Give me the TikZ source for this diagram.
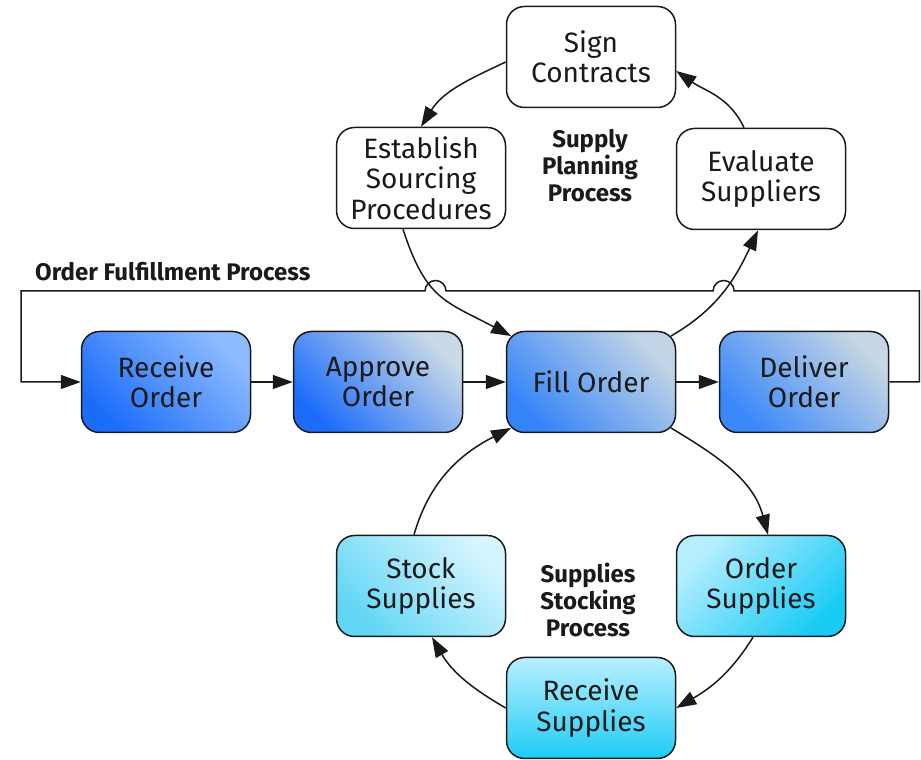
\documentclass[tikz,border=0pt]{standalone}
\usepackage{fontspec}
\setmainfont{Fira Sans}
\usetikzlibrary{arrows.meta,calc,intersections}
\definecolor{linec}{HTML}{1A1A1A}
\definecolor{textc}{HTML}{1A1A1A}
\definecolor{roL}{HTML}{8DBBFF}\definecolor{roD}{HTML}{1C6DFB}
\definecolor{aoL}{HTML}{C9D9E8}\definecolor{aoD}{HTML}{1C6DFB}
\definecolor{foL}{HTML}{C2D5E6}\definecolor{foD}{HTML}{3584F7}
\definecolor{dlL}{HTML}{C6D6E4}\definecolor{dlD}{HTML}{3A88FA}
\definecolor{ssL}{HTML}{D5F5FF}\definecolor{ssD}{HTML}{62D6F5}
\definecolor{osL}{HTML}{B6EEFF}\definecolor{osD}{HTML}{18CBF4}
\definecolor{rsL}{HTML}{B9EFFF}\definecolor{rsD}{HTML}{1DCCF5}
\begin{document}
\begin{tikzpicture}[x=1pt,y=1pt,
  box/.style={draw=linec, line width=1.5pt, rounded corners=18pt,
    minimum width=169pt, minimum height=101pt, inner sep=0pt, align=center,
    font=\fontsize{28}{30.5}\selectfont, text=textc},
  plainbox/.style={box, fill=white},
  link/.style={draw=linec, line width=1.5pt, -{Triangle[length=20pt,width=14pt]}},
  loopline/.style={draw=linec, line width=1.5pt},
  lbl/.style={font=\fontsize{24}{27}\selectfont\bfseries, align=center, text=textc, inner sep=0pt}
]
\useasboundingbox (0,0) rectangle (921,760);

% order fulfillment row
\node[box, top color=roL, bottom color=roD, shading angle=-45] (ro) at (166,378) {Receive\\Order};
\node[box, top color=aoL, bottom color=aoD, shading angle=-45] (ao) at (378,378) {Approve\\Order};
\node[box, top color=foL, bottom color=foD, shading angle=-45] (fo) at (591,378) {Fill Order};
\node[box, top color=dlL, bottom color=dlD, shading angle=-45] (dlv) at (804,378) {Deliver\\Order};

% supply planning
\node[plainbox] (sc) at (591,703) {Sign\\Contracts};
\node[plainbox] (es) at (421,582) {Establish\\Sourcing\\Procedures};
\node[plainbox] (ev) at (761,581) {Evaluate\\Suppliers};

% supplies stocking
\node[box, top color=ssL, bottom color=ssD, shading angle=-45] (ss) at (421,174) {Stock\\Supplies};
\node[box, top color=osL, bottom color=osD, shading angle=45] (os) at (761,174) {Order\\Supplies};
\node[box, top color=rsL, bottom color=rsD] (rs) at (591,52) {Receive\\Supplies};

% labels
\node[lbl, anchor=west] (lof) at (35,488) {Order Fulfillment Process};
\node[lbl] (lsp) at (590,594) {Supply\\Planning\\Process};
\node[lbl] (lss) at (588,160) {Supplies\\Stocking\\Process};

% corner points of Fill Order
\coordinate (foNW) at ($(fo.north west)+(5.3,-5.3)$);
\coordinate (foNE) at ($(fo.north east)+(-5.3,-5.3)$);
\coordinate (foSW) at ($(fo.south west)+(5.3,5.3)$);
\coordinate (foSE) at ($(fo.south east)+(-5.3,5.3)$);

% straight row links
\draw[link] (ro.east) -- (ao.west);
\draw[link] (ao.east) -- (fo.west);
\draw[link] (fo.east) -- (dlv.west);

% supply planning cycle
\draw[link] ($(sc.west)+(0,-5)$) to[out=205,in=58] (es.north);
\draw[link, name path=c1] ($(es.south)+(-18,0)$) to[out=288,in=152,looseness=1.25] (foNW);
\draw[link, name path=c2] (foNE) to[out=30,in=245] ($(ev.south)+(-3,0)$);
\draw[link] ($(ev.north)+(-17,0)$) to[out=115,in=325] ($(sc.east)+(0,-14)$);

% supplies stocking cycle
\draw[link] (foSE) to[out=-31,in=105] ($(os.north)+(7,0)$);
\draw[link] ($(os.south)+(-8,0)$) to[out=238,in=30] (rs.east);
\draw[link] (rs.west) to[out=150,in=300] ($(ss.south)+(11,0)$);
\draw[link] ($(ss.north)+(-7,0)$) to[out=74,in=207] (foSW);

% loop with line jumps
\path[name path=hl] (0,469) -- (921,469);
\path[name intersections={of=c1 and hl, by=xa}];
\path[name intersections={of=c2 and hl, by=xb}];
\draw[loopline, -{Triangle[length=20pt,width=14pt]}] (dlv.east) -- ++(30,0) |- ($(xb)+(10.5,0)$)
  arc[start angle=0, end angle=180, radius=10.5]
  -- ($(xa)+(10.5,0)$)
  arc[start angle=0, end angle=180, radius=10.5]
  -- (21,469) |- (ro.west);
\end{tikzpicture}
\end{document}
